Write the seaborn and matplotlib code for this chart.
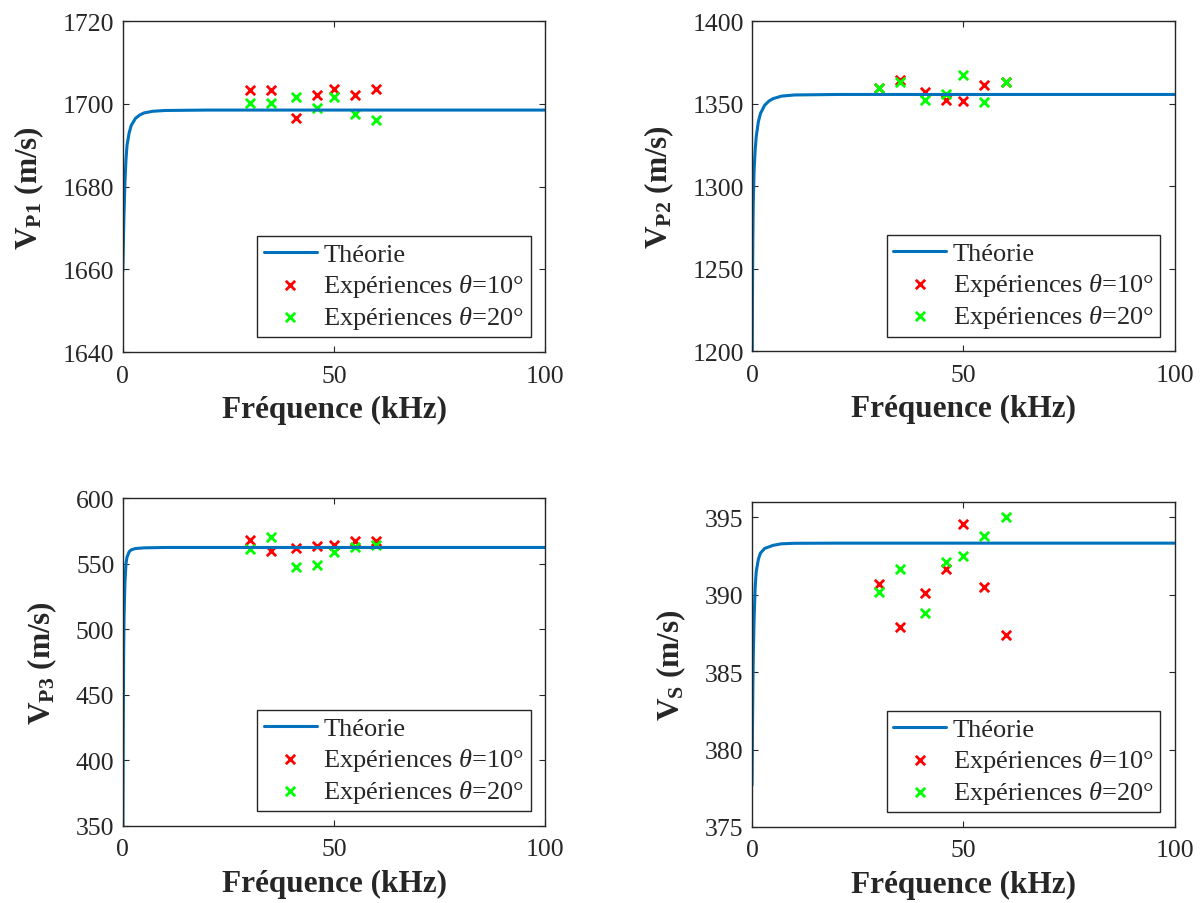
import matplotlib
matplotlib.use("Agg")
import matplotlib.pyplot as plt
import seaborn as sns
import pandas as pd

# --- data ---
freq_exp = [30, 35, 41, 46, 50, 55, 60]

# panel 1 : V_P1
p1_th_x = [0, 0.25, 0.5, 0.75, 1, 1.5, 2, 3, 4, 5, 7, 10, 20, 50, 100]
p1_th_y = [1659.5, 1672, 1681, 1686.5, 1690, 1693, 1694.8, 1696.5, 1697.3, 1697.8, 1698.2, 1698.4, 1698.5, 1698.5, 1698.5]
p1_10 = [1703.4, 1703.4, 1696.5, 1702.1, 1703.6, 1702.1, 1703.6]
p1_20 = [1700.2, 1700.2, 1701.6, 1698.9, 1701.6, 1697.5, 1696.2]

# panel 2 : V_P2
p2_th_x = [0, 0.1, 0.2, 0.3, 0.5, 0.75, 1, 1.5, 2, 3, 4, 5, 7, 10, 20, 50, 100]
p2_th_y = [1150, 1230, 1270, 1290, 1310, 1322, 1330, 1339, 1344, 1349, 1351.5, 1353, 1354.5, 1355.2, 1355.5, 1355.5, 1355.5]
p2_10 = [1359.6, 1364.2, 1357.2, 1352.1, 1351.5, 1361.0, 1363.0]
p2_20 = [1359.6, 1363.0, 1352.1, 1355.6, 1367.1, 1350.9, 1363.0]

# panel 3 : V_P3
p3_th_x = [0, 0.1, 0.2, 0.3, 0.5, 0.75, 1, 1.5, 2, 3, 5, 10, 100]
p3_th_y = [330, 420, 480, 510, 535, 550, 555, 559, 560.5, 561.5, 562, 562.3, 562.3]
p3_10 = [567.9, 559.7, 561.8, 563.3, 563.9, 567.4, 566.9]
p3_20 = [561.0, 570.4, 547.5, 548.6, 558.5, 562.3, 564.1]

# panel 4 : V_S
p4_th_x = [0, 0.1, 0.2, 0.3, 0.5, 0.75, 1, 1.5, 2, 3, 4, 5, 7, 10, 20, 100]
p4_th_y = [377.7, 381, 384, 386, 388.5, 390.5, 391.5, 392.3, 392.7, 393.0, 393.1, 393.2, 393.3, 393.33, 393.34, 393.34]
p4_10 = [390.7, 387.9, 390.1, 391.7, 394.6, 390.5, 387.4]
p4_20 = [390.2, 391.7, 388.8, 392.1, 392.5, 393.8, 395.0]

ylabels = [r"$\mathbf{V_{P1}}$ (m/s)", r"$\mathbf{V_{P2}}$ (m/s)",
           r"$\mathbf{V_{P3}}$ (m/s)", r"$\mathbf{V_{S}}$ (m/s)"]
ylims = [(1640, 1720), (1200, 1400), (350, 600), (375, 396)]
yticks = [[1640, 1660, 1680, 1700, 1720], [1200, 1250, 1300, 1350, 1400],
          [350, 400, 450, 500, 550, 600], [375, 380, 385, 390, 395]]

sns.set_style("white")
plt.rcParams["font.family"] = ["Liberation Serif", "DejaVu Serif"]
plt.rcParams["mathtext.fontset"] = "custom"
plt.rcParams["mathtext.rm"] = "Liberation Serif"
plt.rcParams["mathtext.it"] = "Liberation Serif:italic"
plt.rcParams["mathtext.bf"] = "Liberation Serif:bold"

fig = plt.figure(figsize=(12.04, 9.04), dpi=100)
positions = [[0.102, 0.6095, 0.351, 0.366], [0.6246, 0.6106, 0.351, 0.365],
             [0.102, 0.0852, 0.351, 0.3628], [0.6246, 0.0841, 0.351, 0.3595]]

panels = [(p1_th_x, p1_th_y, p1_10, p1_20), (p2_th_x, p2_th_y, p2_10, p2_20),
          (p3_th_x, p3_th_y, p3_10, p3_20), (p4_th_x, p4_th_y, p4_10, p4_20)]

for i, (tx, ty, e10, e20) in enumerate(panels):
    ax = fig.add_axes(positions[i])
    th = pd.DataFrame({"f": tx, "v": ty})
    ex = pd.DataFrame({"f": freq_exp + freq_exp, "v": e10 + e20,
                       "s": ["10"] * len(e10) + ["20"] * len(e20)})
    sns.lineplot(data=th, x="f", y="v", ax=ax, color="#0072BD", linewidth=2.2,
                 label="Théorie")
    sns.scatterplot(data=ex[ex.s == "10"], x="f", y="v", ax=ax, marker="x",
                    color="#FF0000", s=45, linewidth=2, label=r"Expériences $\theta$=10°")
    sns.scatterplot(data=ex[ex.s == "20"], x="f", y="v", ax=ax, marker="x",
                    color="#00FF00", s=45, linewidth=2, label=r"Expériences $\theta$=20°")
    ax.set_xlim(0, 100)
    ax.set_ylim(*ylims[i])
    ax.set_xticks([0, 50, 100])
    ax.set_yticks(yticks[i])
    ax.tick_params(direction="in", length=4, width=0.8, labelsize=18.5, colors="#262626",
                   top=True, right=True, left=True, bottom=True)
    ax.tick_params(axis="x", pad=9)
    ax.tick_params(axis="y", pad=6)
    for sp in ax.spines.values():
        sp.set_color("#262626")
        sp.set_linewidth(1.0)
    ax.set_xlabel("Fréquence (kHz)", fontsize=22.5, fontweight="bold", color="#262626",
                  labelpad=6)
    ax.set_ylabel(ylabels[i], fontsize=22.5, fontweight="bold", color="#262626",
                  labelpad=12)
    leg = ax.legend(loc="lower right", fontsize=19, frameon=True, fancybox=False,
                    framealpha=1, edgecolor="#262626", handlelength=2.0,
                    borderpad=0.25, labelspacing=0.2, handletextpad=0.25,
                    borderaxespad=0.55)
    leg.get_frame().set_linewidth(1.0)

fig.savefig("out.png", dpi=100)
